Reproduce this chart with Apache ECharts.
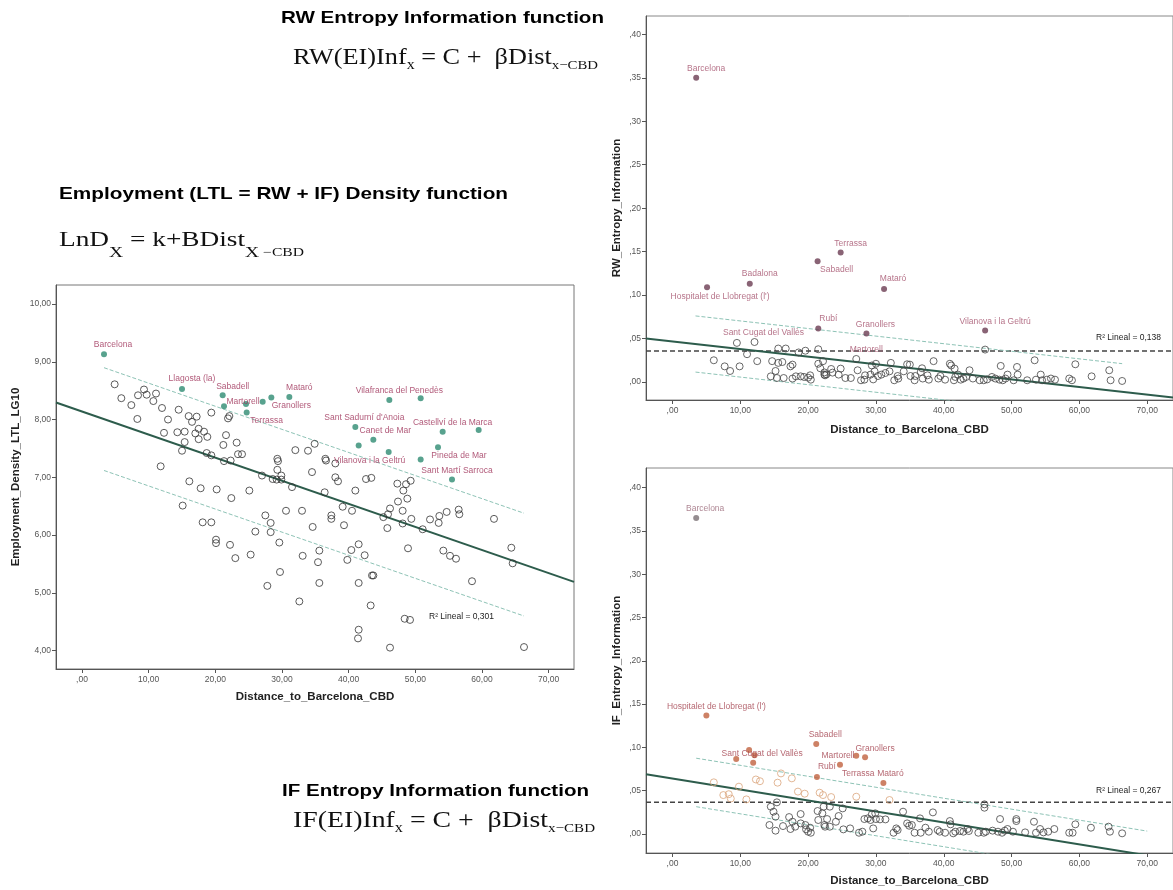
<!DOCTYPE html>
<html><head><meta charset="utf-8">
<script src="https://cdn.jsdelivr.net/npm/echarts@6/dist/echarts.min.js"></script>
<style>html,body{margin:0;padding:0;background:#fff}#c{width:1173px;height:890px}</style>
</head><body><div id="c"></div><script>
// ---------------- DATA ----------------
const xTicks = [0, 10, 20, 30, 40, 50, 60, 70];
const ltlYTicks = [4, 5, 6, 7, 8, 9, 10];
const entropyYTicks = [0, 0.05, 0.10, 0.15, 0.20, 0.25, 0.30, 0.35, 0.40];

// Employment density (LTL) – unlabelled municipalities [distance, density]
const ltlOpen = [[4.9,8.61],[5.9,8.37],[7.4,8.25],[8.3,8.01],[8.4,8.42],[9.3,8.52],[9.7,8.43],[10.7,8.32],[11.1,8.45],[12.0,8.20],[12.9,8.00],[11.8,7.19],[12.3,7.77],[14.3,7.78],[14.5,8.17],[15.4,7.79],[15.4,7.61],[15.0,7.46],[15.1,6.51],[16.0,8.06],[16.5,7.96],[17.2,8.05],[17.0,7.76],[17.5,7.84],[17.5,7.66],[18.3,7.79],[18.8,7.70],[18.7,7.42],[19.4,7.38],[19.4,8.12],[16.1,6.93],[17.8,6.81],[18.1,6.22],[19.4,6.22],[20.2,6.79],[20.1,5.92],[20.1,5.86],[21.2,7.56],[21.3,7.28],[21.6,7.73],[22.1,8.06],[21.9,8.02],[22.3,7.29],[23.2,7.60],[23.4,7.40],[24.0,7.40],[22.4,6.64],[22.2,5.83],[23.0,5.60],[25.1,6.77],[25.3,5.66],[26.0,6.06],[27.0,7.03],[27.5,6.34],[28.3,6.21],[28.3,6.05],[27.8,5.12],[28.6,6.97],[29.3,7.32],[29.4,7.28],[29.3,7.13],[29.2,6.96],[29.9,7.03],[29.9,6.96],[29.6,5.87],[29.7,5.36],[30.6,6.42],[31.5,6.83],[32.0,7.47],[32.6,4.85],[33.0,6.42],[33.1,5.64],[33.9,7.46],[34.5,7.09],[34.6,6.14],[34.9,7.58],[35.4,5.53],[35.6,5.73],[35.6,5.17],[36.4,6.74],[36.5,7.32],[36.6,7.29],[37.4,6.34],[37.4,6.28],[38.0,7.24],[38.0,7.00],[38.4,6.93],[39.1,6.49],[39.3,6.17],[39.8,5.57],[40.4,5.74],[40.5,6.42],[41.0,6.77],[41.5,5.84],[41.5,5.17],[41.5,4.36],[41.4,4.21],[42.4,5.65],[42.6,6.97],[43.4,6.99],[43.5,5.30],[43.7,5.30],[43.3,4.78],[45.2,6.31],[45.8,6.12],[45.9,6.36],[46.2,6.46],[46.2,4.05],[47.3,6.89],[47.4,6.58],[48.2,6.77],[48.1,6.42],[48.1,6.20],[48.6,6.88],[48.8,6.63],[49.3,6.94],[49.4,6.28],[48.9,5.77],[48.4,4.55],[49.2,4.53],[51.1,6.10],[52.2,6.27],[53.6,6.33],[53.5,6.21],[54.7,6.40],[54.2,5.73],[55.2,5.64],[56.1,5.59],[56.5,6.44],[56.6,6.36],[58.5,5.20],[61.8,6.28],[64.4,5.78],[64.6,5.51],[66.3,4.06]];
const ltlFilled = [[21.3,8.23],[27.1,8.31],[50.8,8.37],[41.5,7.55],[50.8,7.31],[59.5,7.82]];
const ltlNames = ['Barcelona','Llagosta (la)','Sabadell','Martorell','Terrassa','Granollers','Mataró','Vilafranca del Penedès',"Sant Sadurní d'Anoia",'Canet de Mar','Castellví de la Marca','Vilanova i la Geltrú','Pineda de Mar','Sant Martí Sarroca'];
const ltlNamedX = [3.3, 15.0, 21.1, 24.6, 24.7, 28.4, 31.1, 46.1, 41.0, 43.7, 54.1, 46.0, 53.4, 55.5];
const ltlNamedY = [9.13, 8.53, 8.42, 8.27, 8.12, 8.38, 8.39, 8.34, 7.87, 7.65, 7.79, 7.44, 7.52, 6.96];
const ltlFit = [8.14, -0.0400];          // intercept, slope
const ltlBand = [0.89, 3.3, 66.3];       // half width, from x, to x
const ltlR2 = 0.301;

// RW entropy information
const rwOpen = [[6.1,0.025],[7.7,0.018],[8.5,0.0127],[9.5,0.045],[9.9,0.018],[11.0,0.032],[12.5,0.024],[14.5,0.0065],[14.7,0.024],[15.2,0.0127],[15.4,0.0046],[15.6,0.0385],[15.6,0.022],[16.2,0.023],[16.4,0.0046],[16.7,0.0385],[17.4,0.018],[17.7,0.020],[17.7,0.004],[18.2,0.0065],[18.6,0.034],[18.9,0.0065],[19.4,0.0058],[19.6,0.036],[20.0,0.005],[20.3,0.0077],[20.4,0.0027],[21.5,0.0377],[21.5,0.021],[21.8,0.0158],[22.2,0.024],[22.4,0.011],[22.5,0.0077],[22.7,0.0088],[22.4,0.0085],[23.4,0.015],[23.6,0.0108],[24.5,0.0085],[24.8,0.0154],[25.5,0.0046],[26.3,0.0046],[27.3,0.0135],[27.8,0.002],[28.3,0.0027],[28.4,0.0077],[29.2,0.0085],[29.4,0.019],[29.6,0.003],[29.8,0.0123],[30.0,0.021],[30.3,0.0069],[30.8,0.0085],[31.4,0.0104],[32.0,0.0123],[32.2,0.022],[32.7,0.002],[33.2,0.0069],[33.3,0.004],[34.1,0.0123],[34.6,0.0204],[35.0,0.020],[35.1,0.0069],[35.7,0.002],[35.8,0.0069],[36.6,0.0115],[36.8,0.0158],[36.9,0.004],[37.6,0.0077],[37.8,0.0027],[38.5,0.024],[39.2,0.004],[39.5,0.0069],[40.2,0.0027],[40.9,0.021],[41.1,0.019],[41.5,0.002],[41.6,0.0154],[41.7,0.0058],[42.1,0.0085],[42.5,0.0027],[42.9,0.004],[43.3,0.0058],[43.8,0.0135],[44.3,0.004],[45.3,0.002],[45.9,0.002],[46.1,0.0373],[46.4,0.003],[47.1,0.0058],[47.6,0.004],[48.2,0.0027],[48.4,0.0185],[48.7,0.002],[49.1,0.004],[49.4,0.0085],[50.3,0.002],[50.8,0.0173],[50.9,0.0085],[52.3,0.002],[53.4,0.025],[53.6,0.0027],[54.3,0.0085],[54.5,0.002],[55.2,0.0027],[55.8,0.004],[56.4,0.0027],[58.5,0.004],[58.9,0.002],[59.4,0.0204],[61.8,0.0065],[64.4,0.0135],[64.6,0.002],[66.3,0.0012]];
const rwNames = ['Barcelona','Terrassa','Sabadell','Badalona',"Hospitalet de Llobregat (l')",'Mataró','Rubí','Granollers','Vilanova i la Geltrú','Sant Cugat del Vallès','Martorell'];
const rwNamedX = [3.5, 24.8, 21.4, 11.4, 5.1, 31.2, 21.5, 28.6, 46.1, 12.1, 27.1];
const rwNamedY = [0.350, 0.149, 0.139, 0.113, 0.109, 0.107, 0.0615, 0.0558, 0.0592, 0.046, 0.0265];
const rwOpenNamed = ['Sant Cugat del Vallès','Martorell'];
const rwFit = [0.0467, -0.000873];
const rwBand = [0.0323, 3.4, 66.3];
const rwMean = 0.0358;
const rwR2 = 0.138;

// IF entropy information
const ifOpenHigh = [[6.1,0.0597],[7.5,0.045],[8.3,0.046],[8.6,0.041],[9.8,0.0547],[10.9,0.040],[12.3,0.063],[12.9,0.061],[15.5,0.0593],[16.0,0.070],[17.6,0.0643],[18.5,0.049],[19.5,0.0466],[21.7,0.0477],[22.2,0.045],[23.4,0.0427],[27.1,0.0431],[32.0,0.0393]];
const ifOpenLow = [[46.0,0.0343],[14.5,0.0316],[14.9,0.0258],[15.2,0.020],[15.4,0.0366],[14.3,0.0104],[15.2,0.0039],[16.3,0.0092],[17.2,0.0196],[17.4,0.0058],[17.7,0.0142],[18.1,0.0085],[18.9,0.0231],[18.9,0.0123],[19.6,0.0104],[19.7,0.0054],[20.0,0.0027],[20.3,0.0073],[20.4,0.0015],[21.4,0.0266],[21.5,0.0162],[22.1,0.0239],[22.3,0.0316],[22.4,0.0104],[22.5,0.0085],[22.8,0.0173],[23.2,0.0316],[23.2,0.0085],[24.1,0.0142],[24.5,0.0208],[25.1,0.0296],[25.2,0.0054],[26.2,0.0065],[27.5,0.0015],[28.0,0.0027],[28.3,0.0173],[28.8,0.0181],[29.2,0.0162],[29.4,0.0227],[29.6,0.0065],[29.9,0.0239],[30.0,0.0173],[30.6,0.0169],[31.4,0.0169],[32.6,0.0015],[33.0,0.0065],[33.2,0.0046],[34.0,0.0258],[34.6,0.0123],[34.9,0.0096],[35.3,0.0104],[35.7,0.0015],[36.5,0.0181],[36.6,0.0015],[37.3,0.0073],[37.8,0.0027],[38.4,0.025],[39.1,0.0046],[39.4,0.0027],[40.2,0.0015],[40.9,0.015],[41.0,0.0112],[41.4,0.0008],[41.7,0.0027],[42.4,0.0035],[42.9,0.0027],[43.5,0.0058],[43.7,0.0035],[45.1,0.0015],[45.9,0.0015],[46.0,0.0304],[46.2,0.0027],[47.2,0.0039],[48.0,0.0027],[48.3,0.0173],[48.6,0.0015],[49.0,0.0039],[49.4,0.0058],[50.2,0.0027],[50.7,0.0173],[50.7,0.015],[52.0,0.0019],[53.3,0.0142],[53.6,0.0015],[54.2,0.0058],[54.7,0.0019],[55.4,0.0027],[56.3,0.0058],[58.5,0.0015],[59.0,0.0015],[59.4,0.0112],[61.7,0.0073],[64.3,0.0085],[64.5,0.0027],[66.3,0.0008]];
const ifFilled = [[11.3,0.097],[12.1,0.091],[9.4,0.0866]];
const ifNames = ['Barcelona',"Hospitalet de Llobregat (l')",'Sabadell','Sant Cugat del Vallès','Martorell','Granollers','Rubí','Terrassa','Mataró'];
const ifNamedX = [3.5, 5.0, 21.2, 11.9, 24.7, 28.4, 21.3, 27.1, 31.1];
const ifNamedY = [0.365, 0.137, 0.104, 0.0824, 0.080, 0.0886, 0.066, 0.0905, 0.059];
const ifFit = [0.0640, -0.001266];
const ifBand = [0.028, 3.5, 70.0];
const ifMean = 0.0366;
const ifR2 = 0.267;

// ---------------- STYLE / LAYOUT ----------------
const SANS = 'Liberation Sans';
const SERIF = 'Liberation Serif';
const X_RANGE = [-3.9, 73.8];
const labelOffsets = {
  ltl: {'Barcelona':[9,-10],'Llagosta (la)':[10,-10],'Sabadell':[10,-9],'Martorell':[-3,-2],'Terrassa':[20,8],'Granollers':[20,8],'Mataró':[10,-9],'Vilafranca del Penedès':[10,-9],"Sant Sadurní d'Anoia":[9,-9],'Canet de Mar':[12,-9],'Castellví de la Marca':[10,-9],'Vilanova i la Geltrú':[-19,9],'Pineda de Mar':[21,8],'Sant Martí Sarroca':[5,-9]},
  rw: {'Barcelona':[10,-9],'Terrassa':[10,-9],'Sabadell':[19,8],'Badalona':[10,-10],"Hospitalet de Llobregat (l')":[13,9],'Mataró':[9,-10],'Rubí':[10,-10],'Granollers':[9,-9],'Vilanova i la Geltrú':[10,-9],'Sant Cugat del Vallès':[9,-9],'Martorell':[10,-9]},
  if: {'Barcelona':[9,-9],"Hospitalet de Llobregat (l')":[10,-9],'Sabadell':[9,-9],'Sant Cugat del Vallès':[9,-9],'Martorell':[-2,-9],'Granollers':[10,-9],'Rubí':[10,-10],'Terrassa':[2,18],'Mataró':[7,-9]}
};

function fmt(v, d){ d = d || 2; let s = v.toFixed(d).replace('.', ','); if (s.startsWith('0,')) s = s.slice(1); if (s.startsWith('-0,')) s='-'+s.slice(2); return s; }
function tick(v){ return fmt(Math.round(v*100)/100, 2); }
const mctx = document.createElement('canvas').getContext('2d');
function textW(t, size, family, weight){ mctx.font = (weight||'normal')+' '+size+'px "'+family+'"'; return mctx.measureText(t).width; }

function stretched(t, left, right, midY, size, family, weight){
  const w = textW(t, size, family, weight);
  return {type:'text', x:left, y:midY, scaleX:(right-left)/w, silent:true,
    style:{text:t, fontSize:size, fontFamily:family, fontWeight:weight, fill:'#000', align:'left', verticalAlign:'middle'}};
}
function formula(parts, left, right, midY){
  let x = 0; const children = [];
  parts.forEach(([t, size, dy]) => {
    children.push({type:'text', x:x, y:dy, silent:true, style:{text:t, fontSize:size, fontFamily:SERIF, fill:'#111', align:'left', verticalAlign:'middle'}});
    x += textW(t, size, SERIF, 'normal');
  });
  return {type:'group', x:left, y:midY, scaleX:(right-left)/x, children};
}
function r2Text(v, x, y){
  return {type:'text', x, y, silent:true, style:{text:'R² Lineal = 0' + fmt(v, 3), fontFamily:SANS, fontSize:8.5, fill:'#222', verticalAlign:'middle'}};
}

function xAxisFor(gi, nameGap){
  return {type:'value', gridIndex:gi, min:X_RANGE[0], max:X_RANGE[1],
    name:'Distance_to_Barcelona_CBD', nameLocation:'middle', nameGap,
    nameTextStyle:{fontFamily:SANS, fontWeight:'bold', fontSize:11.5, color:'#222'},
    axisLine:{show:true, onZero:false, lineStyle:{color:'#555', width:1}},
    axisTick:{show:true, customValues:xTicks, length:4, lineStyle:{color:'#555'}},
    axisLabel:{customValues:xTicks, formatter:tick, fontFamily:SANS, fontSize:8.5, color:'#555', margin:6},
    splitLine:{show:false}};
}
function yAxisFor(gi, min, max, ticks, name, nameGap){
  return {type:'value', gridIndex:gi, min, max, name, nameLocation:'middle', nameGap,
    nameTextStyle:{fontFamily:SANS, fontWeight:'bold', fontSize:11.5, color:'#222'},
    axisLine:{show:true, onZero:false, lineStyle:{color:'#555', width:1}},
    axisTick:{show:true, customValues:ticks, length:4, lineStyle:{color:'#555'}},
    axisLabel:{customValues:ticks, formatter:tick, fontFamily:SANS, fontSize:8.5, color:'#555', margin:5},
    splitLine:{show:false}};
}
const OPEN_SIZE = 7, FILLED_SIZE = 6;
function openSeries(gi, data, color){
  return {type:'scatter', xAxisIndex:gi, yAxisIndex:gi, data, symbol:'circle', symbolSize:OPEN_SIZE, silent:true, z:3,
    itemStyle:{color:'rgba(0,0,0,0)', borderColor:color, borderWidth:1}};
}
function filledSeries(gi, data, color){
  return {type:'scatter', xAxisIndex:gi, yAxisIndex:gi, data, symbol:'circle', symbolSize:FILLED_SIZE, silent:true, z:4, itemStyle:{color}};
}
function namedSeries(gi, names, xs, ys, color, labelColor, offsets, openNames, openColor, special){
  const data = names.map((n, i) => {
    const item = {name:n, value:[xs[i], ys[i]], label:{offset:offsets[n]}};
    if (openNames.includes(n)) { item.itemStyle = {color:'rgba(0,0,0,0)', borderColor:openColor, borderWidth:1}; item.symbolSize = OPEN_SIZE; }
    if (special && special[n]) { item.itemStyle = {color:special[n].color}; item.label.color = special[n].label; }
    return item;
  });
  return {type:'scatter', xAxisIndex:gi, yAxisIndex:gi, data, symbol:'circle', symbolSize:FILLED_SIZE, silent:true, z:5,
    itemStyle:{color},
    label:{show:true, position:'inside', formatter:p => p.name, fontFamily:SANS, fontSize:8.5, color:labelColor}};
}
function lineSeries(gi, pts, color, width, type){
  return {type:'line', xAxisIndex:gi, yAxisIndex:gi, data:pts, symbol:'none', silent:true, z:2,
    lineStyle:{color, width, type}};
}
function fitPts(fit, a, b){ return [[a, fit[0]+fit[1]*a], [b, fit[0]+fit[1]*b]]; }
function bandPts(fit, band, sign){ return fitPts([fit[0]+sign*band[0], fit[1]], band[1], band[2]); }

const FIT_COLOR = '#2d5c4c', BAND_COLOR = '#8ec3b6';

const option = {
  animation:false,
  backgroundColor:'#fff',
  grid:[
    {left:56, top:285, width:518, height:384, show:true, borderColor:'#777', borderWidth:1},
    {left:646, top:16, width:529, height:384, show:true, borderColor:'#888', borderWidth:1},
    {left:646, top:468, width:529, height:385, show:true, borderColor:'#888', borderWidth:1}
  ],
  xAxis:[xAxisFor(0, 22), xAxisFor(1, 24), xAxisFor(2, 22)],
  yAxis:[
    yAxisFor(0, 3.68, 10.33, ltlYTicks, 'Employment_Density_LTL_LG10', 34),
    yAxisFor(1, -0.0207, 0.4211, entropyYTicks, 'RW_Entropy_Information', 23),
    yAxisFor(2, -0.0219, 0.4227, entropyYTicks, 'IF_Entropy_Information', 23)
  ],
  series:[
    // LTL
    lineSeries(0, bandPts(ltlFit, ltlBand, 1), BAND_COLOR, 1, [4,2]),
    lineSeries(0, bandPts(ltlFit, ltlBand, -1), BAND_COLOR, 1, [4,2]),
    lineSeries(0, fitPts(ltlFit, X_RANGE[0], X_RANGE[1]), FIT_COLOR, 2, 'solid'),
    openSeries(0, ltlOpen, '#333'),
    filledSeries(0, ltlFilled, '#2e8b72'),
    namedSeries(0, ltlNames, ltlNamedX, ltlNamedY, '#2e8b72', '#9c2d55', labelOffsets.ltl, [], ''),
    // RW
    lineSeries(1, fitPts([rwMean, 0], X_RANGE[0], X_RANGE[1]), '#444', 1.5, [5,3]),
    lineSeries(1, bandPts(rwFit, rwBand, 1), BAND_COLOR, 1, [4,2]),
    lineSeries(1, bandPts(rwFit, rwBand, -1), BAND_COLOR, 1, [4,2]),
    lineSeries(1, fitPts(rwFit, X_RANGE[0], X_RANGE[1]), FIT_COLOR, 2, 'solid'),
    openSeries(1, rwOpen, '#444'),
    namedSeries(1, rwNames, rwNamedX, rwNamedY, '#6b3c52', '#a4506c', labelOffsets.rw, rwOpenNamed, '#444'),
    // IF
    lineSeries(2, fitPts([ifMean, 0], X_RANGE[0], X_RANGE[1]), '#444', 1.5, [5,3]),
    lineSeries(2, bandPts(ifFit, ifBand, 1), BAND_COLOR, 1, [4,2]),
    lineSeries(2, bandPts(ifFit, ifBand, -1), BAND_COLOR, 1, [4,2]),
    lineSeries(2, fitPts(ifFit, X_RANGE[0], X_RANGE[1]), FIT_COLOR, 2, 'solid'),
    openSeries(2, ifOpenLow, '#444'),
    openSeries(2, ifOpenHigh, '#dba57c'),
    filledSeries(2, ifFilled, '#c0623e'),
    namedSeries(2, ifNames, ifNamedX, ifNamedY, '#c0623e', '#a3404c', labelOffsets.if, [], '', {'Barcelona':{color:'#7b7074', label:'#9a6878'}})
  ],
  graphic:[
    stretched('RW Entropy Information function', 281, 604, 18.2, 16.3, SANS, 'bold'),
    stretched('Employment (LTL = RW + IF) Density function', 59, 508, 194.2, 16.3, SANS, 'bold'),
    stretched('IF Entropy Information function', 282, 589, 791.2, 16.3, SANS, 'bold'),
    formula([['RW(EI)Inf',23,0],['x',14,7.5],[' = C +  βDist',23,0],['x−CBD',13,7.5]], 293, 598, 57.7),
    formula([['LnD',21,0],['X',15,13],[' = k+BDist',21,0],['X',15,13],[' −CBD',12,13.3]], 59, 304, 240),
    formula([['IF(EI)Inf',24,0],['x',14,8],[' = C +  βDist',24,0],['x−CBD',13,8]], 293, 595, 820.8),
    r2Text(ltlR2, 429, 617),
    r2Text(rwR2, 1096, 338),
    r2Text(ifR2, 1096, 791)
  ]
};
const chart = echarts.init(document.getElementById('c'), null, {renderer:'canvas'});
chart.setOption(option);
</script></body></html>
